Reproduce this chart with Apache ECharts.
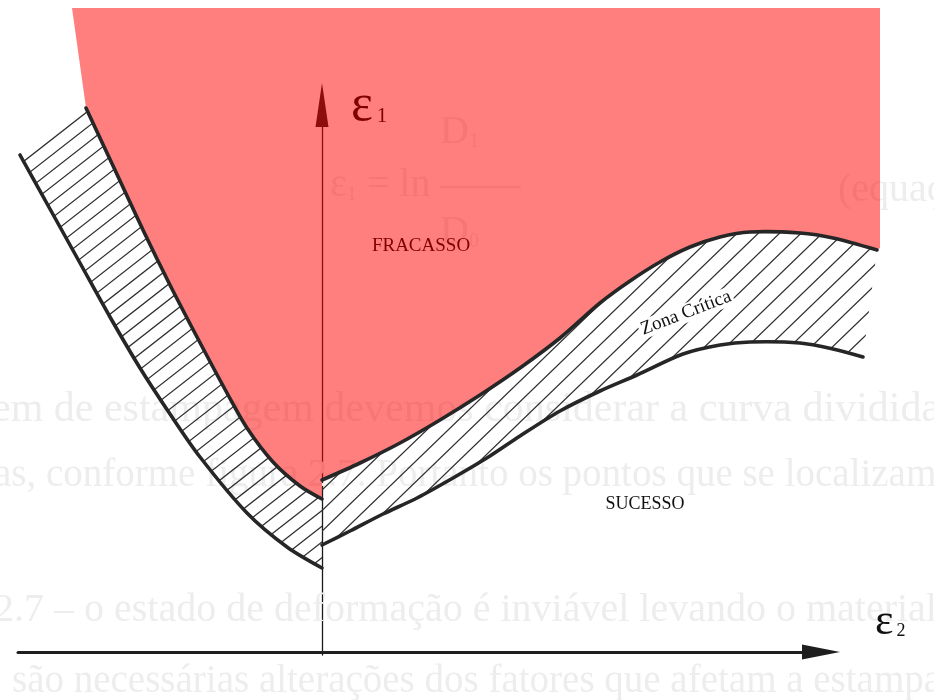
<!DOCTYPE html>
<html><head><meta charset="utf-8">
<script src="https://cdn.jsdelivr.net/npm/echarts@6/dist/echarts.min.js"></script>
<style>html,body{margin:0;padding:0;background:#fff}#c{width:934px;height:700px}</style>
</head><body><div id="c"></div>
<script>
// ---- data (ε2 = minor strain, ε1 = major strain) ----
// left branch of the critical zone
const leftOuterE2 = [-0.302,-0.272,-0.242,-0.212,-0.182,-0.152,-0.122,-0.075,-0.035,0.000];
const leftOuterE1 = [0.497,0.443,0.389,0.335,0.284,0.238,0.195,0.139,0.105,0.084];
const leftInnerE2 = [-0.236,-0.207,-0.179,-0.152,-0.125,-0.095,-0.075,-0.049,-0.022,0.000];
const leftInnerE1 = [0.544,0.482,0.422,0.367,0.315,0.259,0.224,0.190,0.166,0.153];
// right branch of the critical zone
const rightUpperE2 = [0.000,0.038,0.078,0.118,0.158,0.198,0.238,0.278,0.308,0.338,0.368,0.398,0.428,0.478,0.511,0.555];
const rightUpperE1 = [0.172,0.189,0.209,0.232,0.257,0.284,0.314,0.349,0.371,0.390,0.405,0.415,0.420,0.419,0.414,0.402];
const rightLowerE2 = [0.000,0.028,0.061,0.095,0.131,0.168,0.198,0.238,0.278,0.315,0.361,0.398,0.428,0.478,0.511,0.541];
const rightLowerE1 = [0.107,0.121,0.138,0.154,0.174,0.196,0.216,0.241,0.261,0.277,0.298,0.307,0.310,0.309,0.303,0.295];
// outer corners of the failure (FRACASSO) region
const failCornerE2 = [-0.250, 0.558, 0.558];
const failCornerE1 = [0.644, 0.644, 0.404];
// text labels
const regionLabels = ['FRACASSO', 'SUCESSO', 'Zona Crítica'];
const axisLabels = ['ε', '1', 'ε', '2'];
// faint show-through text of the scanned page
const pageText = ['D', '1', 'ε', '1', '= ln', 'D', '0', '(equação',
  'em de estampagem devemos considerar a curva dividida',
  'as, conforme figura 2.7. Portanto os pontos que se localizam',
  '2.7 – o estado de deformação é inviável levando o material',
  'são necessárias alterações dos fatores que afetam a estampagem'];

// ---- layout / style (not data) ----
const labelPos = { fr: [0.099, 0.406], su: [0.323, 0.148], zc: [0.364, 0.339], e1: [0.029, 0.546], e2: [0.553, 0.030] };
const W = 934, H = 700;

function hatch(angleDeg, gap, width, color) {
  const c = document.createElement('canvas'); c.width = W; c.height = H;
  const g = c.getContext('2d'); g.strokeStyle = color; g.lineWidth = width;
  const a = angleDeg * Math.PI / 180, dx = Math.cos(a), dy = -Math.sin(a);
  const nx = Math.sin(a), ny = Math.cos(a), L = 2000;
  g.beginPath();
  for (let k = -120; k <= 120; k++) {
    const ox = W / 2 + nx * k * gap, oy = H / 2 + ny * k * gap;
    g.moveTo(ox - dx * L, oy - dy * L); g.lineTo(ox + dx * L, oy + dy * L);
  }
  g.stroke();
  return c;
}
const hatchLeft = hatch(38, 12.4, 1.25, '#303030');
const hatchRight = hatch(44, 14.8, 1.25, '#303030');

const zip = (a, b) => a.map((x, i) => [x, b[i]]);
const rev = a => a.slice().reverse();

const failPoly = zip(failCornerE2, failCornerE1)
  .concat(zip(rev(rightUpperE2), rev(rightUpperE1)))
  .concat(zip(rev(leftInnerE2), rev(leftInnerE1)));
const leftBand = zip(leftOuterE2, leftOuterE1).concat(zip(rev(leftInnerE2), rev(leftInnerE1)));
const rightBand = zip(rightUpperE2, rightUpperE1).concat(zip(rev(rightLowerE2), rev(rightLowerE1)));

function polySeries(pts, style, z) {
  return {
    type: 'custom', z, clip: false, silent: true, data: [0],
    renderItem: (p, api) => ({ type: 'polygon', shape: { points: pts.map(v => api.coord(v)) }, style })
  };
}
function curve(e2, e1) {
  const pts = zip(e2, e1);
  return {
    type: 'custom', z: 5, clip: false, silent: true, data: [0],
    renderItem: (p, api) => ({ type: 'polyline', shape: { points: pts.map(v => api.coord(v)), smooth: 0.3 },
      style: { stroke: '#262626', lineWidth: 3.6, lineCap: 'round', lineJoin: 'round', fill: null } })
  };
}
const serif = '"Liberation Serif", "DejaVu Serif", serif';
const ghost = '#ededed';

function ghostRich(parts) {
  return { rich: { a: { font: '40px ' + serif, fill: ghost }, b: { font: '20px ' + serif, fill: ghost, verticalAlign: 'bottom' } }, text: parts };
}

const chart = echarts.init(document.getElementById('c'), null, { renderer: 'canvas' });
chart.setOption({
  animation: false,
  backgroundColor: '#ffffff',
  grid: { left: 18, right: 113, top: 105, bottom: 45 },
  xAxis: {
    type: 'value', min: -0.304, max: 0.499,
    axisLine: { show: true, onZero: true, symbol: ['none', 'triangle'], symbolSize: [15, 38],
      lineStyle: { color: '#1e1e1e', width: 3 } },
    axisTick: { show: false }, axisLabel: { show: false }, splitLine: { show: false }
  },
  yAxis: {
    type: 'value', min: -0.003, max: 0.547,
    axisLine: { show: true, onZero: true, symbol: ['none', 'triangle'], symbolSize: [13, 44],
      lineStyle: { color: '#1a1a1a', width: 1.3 } },
    axisTick: { show: false }, axisLabel: { show: false }, splitLine: { show: false }
  },
  series: [
    // faint show-through of the scanned page (beneath everything)
    {
      type: 'custom', z: 1, clip: false, silent: true, data: [0],
      renderItem: () => ({ type: 'group', children: [
        { type: 'text', x: 440, y: 112, style: ghostRich('{a|' + pageText[0] + '}{b|' + pageText[1] + '}') },
        { type: 'text', x: 330, y: 165, style: ghostRich('{a|' + pageText[2] + '}{b|' + pageText[3] + '}{a| ' + pageText[4] + ' ——}') },
        { type: 'text', x: 440, y: 212, style: ghostRich('{a|' + pageText[5] + '}{b|' + pageText[6] + '}') },
        { type: 'text', x: 838, y: 170, style: { text: pageText[7], font: '40px ' + serif, fill: ghost } },
        { type: 'text', x: -8, y: 389, style: { text: pageText[8], font: '42px ' + serif, fill: ghost } },
        { type: 'text', x: -6, y: 456, style: { text: pageText[9], font: '39px ' + serif, fill: ghost } },
        { type: 'text', x: -6, y: 590, style: { text: pageText[10], font: '40px ' + serif, fill: ghost } },
        { type: 'text', x: 12, y: 662, style: { text: pageText[11], font: '39px ' + serif, fill: ghost } }
      ] })
    },
    // labels under the red tint
    {
      type: 'custom', z: 2, clip: false, silent: true, data: [0],
      renderItem: (p, api) => {
        const fr = api.coord(labelPos.fr), e1 = api.coord(labelPos.e1);
        return { type: 'group', children: [
          { type: 'text', x: fr[0], y: fr[1], style: { text: regionLabels[0], font: '19px ' + serif, fill: '#000', align: 'center', verticalAlign: 'middle' } },
          { type: 'text', x: e1[0], y: e1[1], style: { text: '{e|' + axisLabels[0] + '}{g| }{s|' + axisLabels[1] + '}', align: 'left', verticalAlign: 'middle',
            rich: { e: { font: '52px ' + serif, fill: '#000', verticalAlign: 'bottom' }, g: { font: '16px ' + serif, verticalAlign: 'bottom' }, s: { font: '21px ' + serif, fill: '#000', verticalAlign: 'bottom', padding: [0, 0, 5, 0] } } } }
        ] };
      }
    },
    // failure region tint
    polySeries(failPoly, { fill: 'rgba(255,0,0,0.5)' }, 3),
    // hatched critical zone
    polySeries(leftBand, { fill: { image: hatchLeft, repeat: 'no-repeat' } }, 4),
    polySeries(rightBand, { fill: { image: hatchRight, repeat: 'no-repeat' } }, 4),
    curve(leftOuterE2, leftOuterE1),
    curve(leftInnerE2, leftInnerE1),
    curve(rightUpperE2, rightUpperE1),
    curve(rightLowerE2, rightLowerE1),
    // labels on top
    {
      type: 'custom', z: 6, clip: false, silent: true, data: [0],
      renderItem: (p, api) => {
        const su = api.coord(labelPos.su), zc = api.coord(labelPos.zc), e2 = api.coord(labelPos.e2);
        return { type: 'group', children: [
          { type: 'text', x: su[0], y: su[1], style: { text: regionLabels[1], font: '18px ' + serif, fill: '#111', align: 'center', verticalAlign: 'middle' } },
          { type: 'text', x: zc[0], y: zc[1], rotation: 21 * Math.PI / 180,
            style: { text: regionLabels[2], font: '19px ' + serif, fill: '#111', align: 'center', verticalAlign: 'middle', backgroundColor: '#fff', padding: [0, 2] } },
          { type: 'text', x: e2[0], y: e2[1], style: { text: '{e|' + axisLabels[2] + '}{g| }{s|' + axisLabels[3] + '}', align: 'left', verticalAlign: 'middle',
            rich: { e: { font: '44px ' + serif, fill: '#111', verticalAlign: 'bottom' }, g: { font: '12px ' + serif, verticalAlign: 'bottom' }, s: { font: '18px ' + serif, fill: '#111', verticalAlign: 'bottom', padding: [0, 0, 4, 0] } } } }
        ] };
      }
    }
  ]
});
</script></body></html>
